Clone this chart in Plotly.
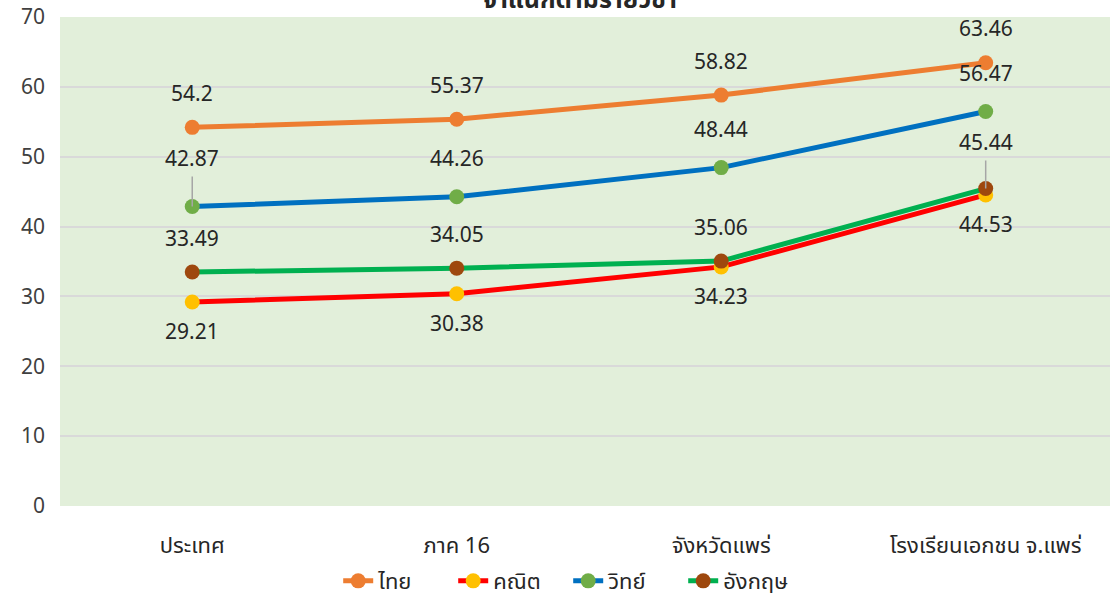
import plotly.graph_objects as go

categories = ["ประเทศ", "ภาค 16", "จังหวัดแพร่", "โรงเรียนเอกชน จ.แพร่"]
thai = [54.2, 55.37, 58.82, 63.46]
math = [29.21, 30.38, 34.23, 44.53]
science = [42.87, 44.26, 48.44, 56.47]
english = [33.49, 34.05, 35.06, 45.44]
series_names = ["ไทย", "คณิต", "วิทย์", "อังกฤษ"]
title_text = "จำแนกตามรายวิชา"
y_ticks = [0, 10, 20, 30, 40, 50, 60, 70]

FONT = "Tahoma, 'Noto Sans Thai', 'Noto Sans', sans-serif"

styles = [
    (thai, "#ED7D31", "#ED7D31", 33),
    (math, "#FF0000", "#FFC000", -31),
    (science, "#0070C0", "#70AD47", 37),
    (english, "#00B050", "#9E480E", 33),
]

fig = go.Figure()
for name, (vals, lc, mc, shift) in zip(series_names, styles):
    fig.add_trace(go.Scatter(
        x=categories, y=vals, name=name, mode="lines+markers",
        line=dict(color=lc, width=5),
        marker=dict(color=mc, size=15, line=dict(width=0)),
    ))

# data labels
leader = {(2, 0): 43, (3, 3): 41}
for si, (vals, lc, mc, shift) in enumerate(styles):
    for ci, v in enumerate(vals):
        key = (si, ci)
        if key in leader:
            fig.add_annotation(
                x=categories[ci], y=v, text=f"{v:g}", showarrow=True,
                ax=0, ay=-leader[key] - 4, arrowhead=0, arrowwidth=1.5,
                arrowcolor="#A6A6A6", standoff=0, startstandoff=0,
                font=dict(size=21, color="#262626", family=FONT),
            )
        else:
            fig.add_annotation(
                x=categories[ci], y=v, text=f"{v:g}", showarrow=False,
                yshift=shift, font=dict(size=21, color="#262626", family=FONT),
            )

fig.add_annotation(
    x=0.495, y=1, xref="paper", yref="paper", text=f"<b>{title_text}</b>",
    showarrow=False, yanchor="bottom", yshift=-4,
    font=dict(size=25, color="#262626", family=FONT),
)

fig.update_layout(
    width=1110, height=599,
    margin=dict(l=60, r=0, t=17, b=93, autoexpand=False),
    paper_bgcolor="white", plot_bgcolor="#E2EFDA",
    font=dict(family=FONT, size=20, color="#404040"),
    showlegend=True,
    legend=dict(orientation="h", x=0.484, xanchor="center", y=0.03, yanchor="middle",
                yref="container", entrywidth=70, entrywidthmode="pixels",
                font=dict(size=22, color="#262626"), tracegroupgap=0),
    xaxis=dict(range=[-0.5, 3.47], showgrid=False, zeroline=False, showline=False,
               automargin=False,
               ticks="", ticklabelstandoff=24, tickfont=dict(size=22, color="#262626")),
    yaxis=dict(range=[0, 70], tickvals=y_ticks, showgrid=True, gridcolor="#D9D9D9",
               gridwidth=2, zeroline=False, showline=False, ticks="", automargin=False,
               ticklabelstandoff=14, tickfont=dict(size=21, color="#404040")),
)

fig.write_html("out.html", config={"displayModeBar": False},
               post_script="document.body.style.margin='0px';document.body.style.overflow='hidden';")
